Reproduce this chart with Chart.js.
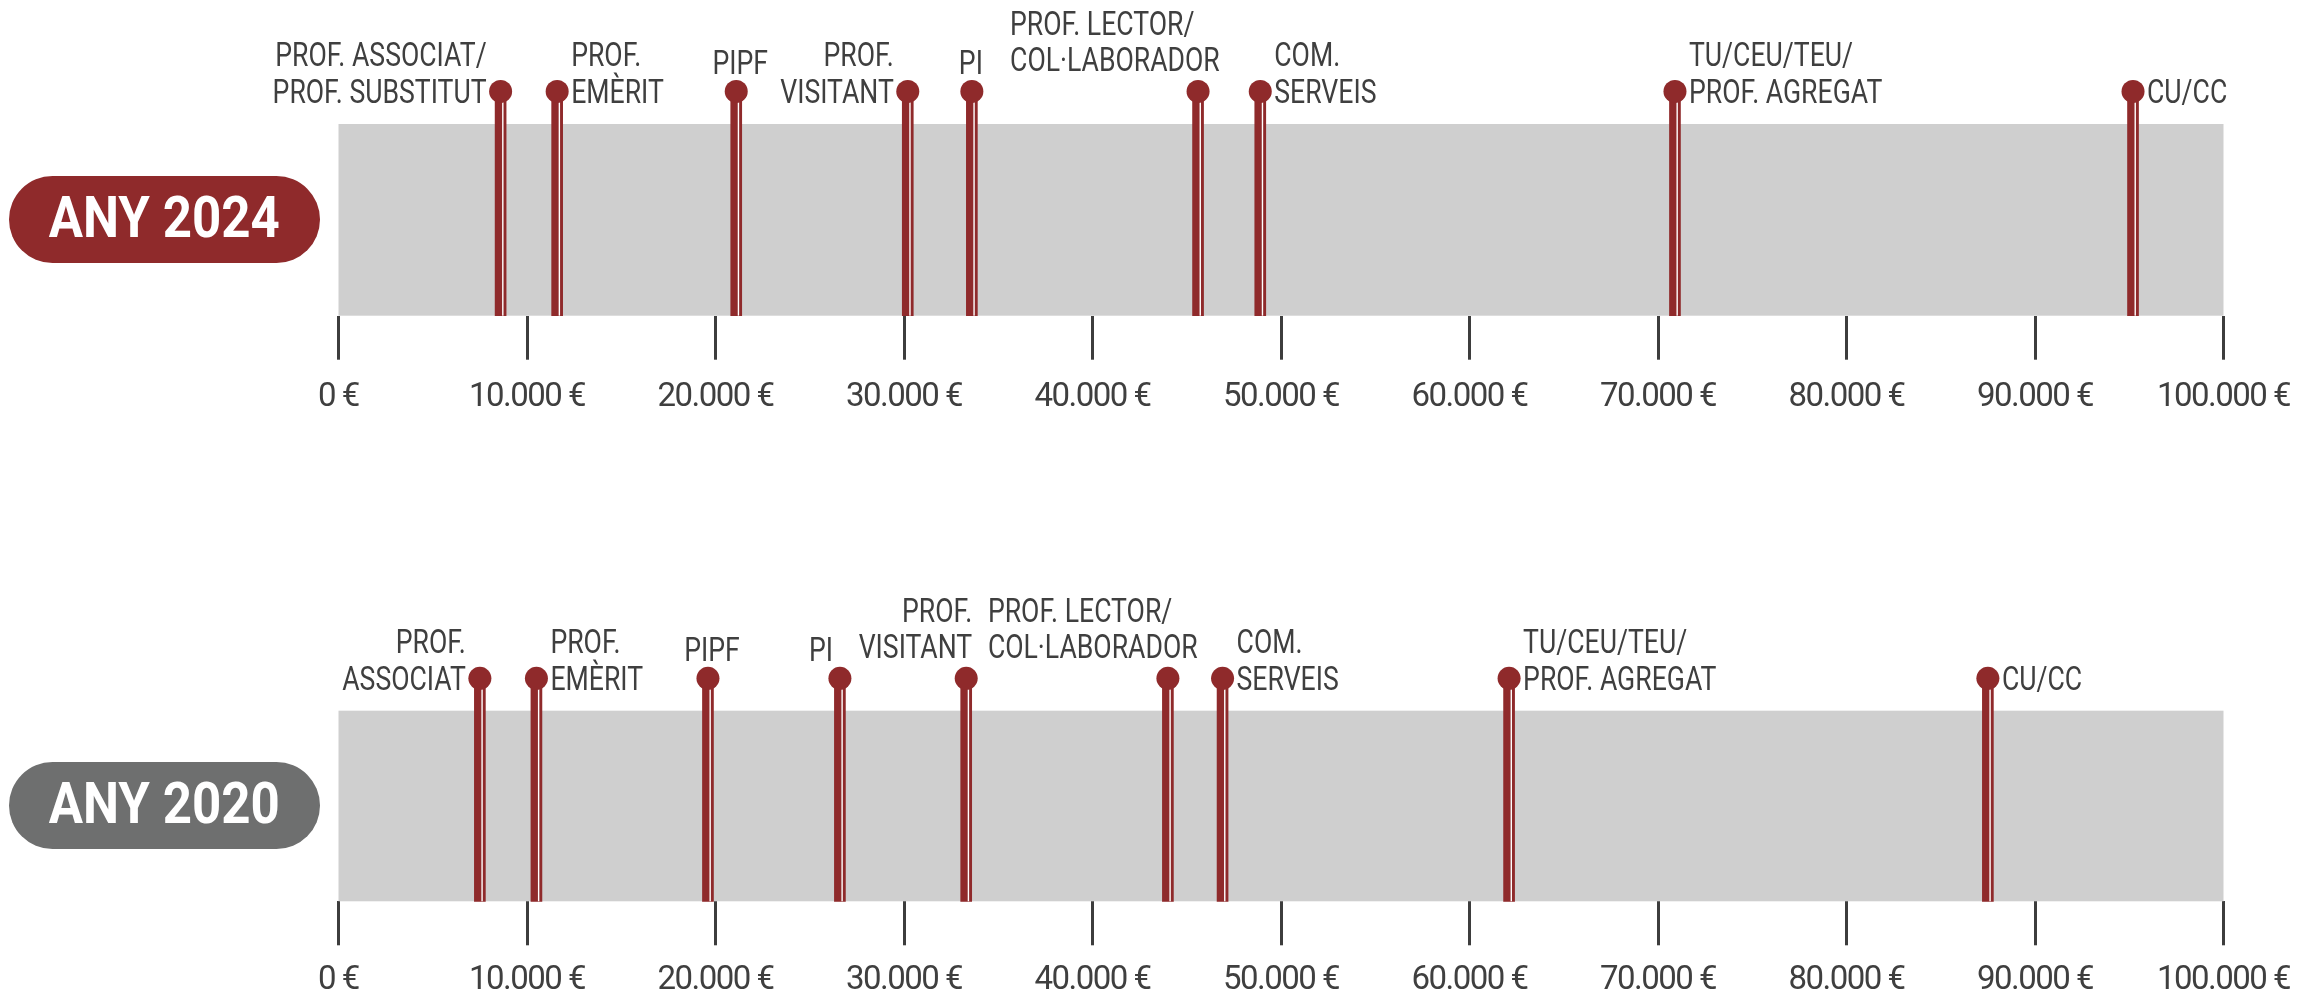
<!DOCTYPE html>
<html>
<head>
<meta charset="utf-8">
<script src="https://cdn.jsdelivr.net/npm/chart.js@4.4.1/dist/chart.umd.min.js"></script>
<style>
html,body{margin:0;padding:0;background:#fff;width:2315px;height:997px;overflow:hidden;}
.wrap{position:absolute;left:0;width:2315px;}
.pill{position:absolute;left:9px;width:311px;height:87px;border-radius:44px;color:#fff;
  display:flex;align-items:center;justify-content:center;box-sizing:border-box;padding-bottom:5px;}
.pill span{display:inline-block;white-space:nowrap;font-weight:bold;font-size:58px;}
</style>
</head>
<body>
<div class="wrap" style="top:0;height:480px"><canvas id="c2024"></canvas></div>
<div class="wrap" style="top:480px;height:517px"><canvas id="c2020"></canvas></div>
<div class="pill" id="p2024" style="top:176px;background:#8f2a2b"><span></span></div>
<div class="pill" id="p2020" style="top:762px;background:#6e6f6f"><span></span></div>
<script>
// --- data ---
const years = ['ANY 2024', 'ANY 2020'];
const cats2024 = [['PROF. ASSOCIAT/','PROF. SUBSTITUT'],['PROF.','EMÈRIT'],['PIPF'],['PROF.','VISITANT'],['PI'],
  ['PROF. LECTOR/','COL·LABORADOR'],['COM.','SERVEIS'],['TU/CEU/TEU/','PROF. AGREGAT'],['CU/CC']];
const vals2024 = [8600, 11600, 21100, 30200, 33600, 45600, 48900, 70900, 95200];
const cats2020 = [['PROF.','ASSOCIAT'],['PROF.','EMÈRIT'],['PIPF'],['PI'],['PROF.','VISITANT'],
  ['PROF. LECTOR/','COL·LABORADOR'],['COM.','SERVEIS'],['TU/CEU/TEU/','PROF. AGREGAT'],['CU/CC']];
const vals2020 = [7500, 10500, 19600, 26600, 33300, 44000, 46900, 62100, 87500];
const tickValues = [0,10000,20000,30000,40000,50000,60000,70000,80000,90000,100000];

// label placement (style only): align, offset from the pin head
const L = {align:'right', dx:-14, dy:11.5}, R = {align:'left', dx:14, dy:11.5};
const place2024 = [L, R, {align:'center',dx:4,dy:-17}, L, {align:'center',dx:-1,dy:-17},
  {align:'left',dx:-188,dy:-20}, R, R, R];
const place2020 = [L, R, {align:'center',dx:4,dy:-17}, {align:'right',dx:-7,dy:-17}, {align:'right',dx:6,dy:-20},
  {align:'left',dx:-180,dy:-20}, R, R, R];

const RED = '#8f2a2b', TXT = '#3f3f3f', BAND = '#cfcfcf';
const HEAD = 1.17, YMAX = 1.3;   // band is y 0..1, heads sit above it

function hasFont(name){
  const c = document.createElement('canvas').getContext('2d');
  const s = 'PROF. ASSOCIAT 10.000';
  c.font = '40px monospace'; const a = c.measureText(s).width;
  c.font = `40px "${name}", monospace`; return c.measureText(s).width !== a;
}
const FONT = hasFont('Liberation Sans Narrow') ? 'Liberation Sans Narrow' : 'Roboto';
const narrow = FONT !== 'Roboto';

// squeeze labels to the condensed look of the original
const mctx = document.createElement('canvas').getContext('2d');
mctx.font = `34px "${FONT}"`;
const SX = Math.min(1, 214 / mctx.measureText('PROF. SUBSTITUT').width);

function tickLabel(v){ return String(v).replace(/\B(?=(\d{3})+(?!\d))/g, '.') + ' €'; }

// pills
[['p2024', years[0]], ['p2020', years[1]]].forEach(([id, t])=>{
  const sp = document.querySelector('#'+id+' span');
  sp.textContent = t; sp.style.fontFamily = `"${FONT}"`;
  mctx.font = `bold 58px "${FONT}"`;
  const k = 231 / mctx.measureText(t).width;
  sp.style.transform = `scaleX(${k.toFixed(3)})`;
});

const bandPlugin = {
  id:'band',
  beforeDraw(chart){ if (!narrow) chart.ctx.letterSpacing = '-1.5px'; },
  beforeDatasetsDraw(chart){
    const a = chart.chartArea, ctx = chart.ctx, y = chart.scales.y;
    const top = y.getPixelForValue(1), bot = y.getPixelForValue(0);
    ctx.save(); ctx.fillStyle = BAND; ctx.fillRect(a.left, top, a.right - a.left, bot - top); ctx.restore();
  },
  afterDatasetDraw(chart, args){
    if (args.meta.type !== 'bar') return;
    const ctx = chart.ctx;
    ctx.save(); ctx.fillStyle = '#ffffff';
    args.meta.data.forEach(b=>{ ctx.fillRect(b.x + 1.5, b.y, 1.4, b.base - b.y); });
    ctx.restore();
  }
};

function labelPlugin(cats, places){
  return {
    id:'pinLabels',
    afterDraw(chart){
      const meta = chart.getDatasetMeta(0), ctx = chart.ctx;
      ctx.save();
      ctx.letterSpacing = '0px';
      ctx.font = `34px "${FONT}"`; ctx.fillStyle = TXT; ctx.textBaseline = 'alphabetic';
      meta.data.forEach((pt, i)=>{
        const lines = cats[i], p = places[i], n = lines.length;
        lines.forEach((ln, j)=>{
          const y = pt.y + p.dy - (n - 1 - j) * 36.5;
          ctx.save(); ctx.translate(pt.x + p.dx, y); ctx.scale(SX, 1);
          ctx.textAlign = p.align; ctx.fillText(ln, 0, 0); ctx.restore();
        });
      });
      ctx.restore();
    }
  };
}

function makeChart(id, cats, vals, places, padTop, axisH, tickPad){
  return new Chart(document.getElementById(id), {
    type:'bar',
    data:{ datasets:[
      { type:'scatter', data: vals.map(v=>({x:v, y:HEAD})), pointRadius:11.5, pointHoverRadius:11.5,
        backgroundColor:RED, borderWidth:0, clip:false },
      { type:'bar', data: vals.map(v=>({x:v, y:[0, HEAD]})), backgroundColor:RED, borderWidth:0,
        barThickness:11, clip:false }
    ]},
    options:{
      responsive:true, maintainAspectRatio:false, animation:false, events:[],
      layout:{ padding:{ left:338.5, right:91.5, top:padTop, bottom:0 } },
      plugins:{ legend:{display:false}, tooltip:{enabled:false} },
      scales:{
        x:{ type:'linear', min:0, max:100000, offset:false,
          afterBuildTicks: s=>{ s.ticks = tickValues.map(v=>({value:v})); },
          afterFit: s=>{ s.height = axisH; },
          ticks:{ callback: v=>tickLabel(v), autoSkip:false, maxRotation:0, padding:tickPad,
            color:TXT, font:{ family:FONT, size: narrow ? 34 : 33 } },
          grid:{ display:true, offset:false, drawOnChartArea:false, drawTicks:true, tickLength:44, tickWidth:3, tickColor:'#3d3d3d' },
          border:{ display:false } },
        y:{ display:false, min:0, max:YMAX }
      }
    },
    plugins:[bandPlugin, labelPlugin(cats, places)]
  });
}

// chart area spans from above the heads down to the band bottom
makeChart('c2024', cats2024, vals2024, place2024, 66.5, 164.3, 18);
makeChart('c2020', cats2020, vals2020, place2020, 173.5, 95.7, 16);
</script>
</body>
</html>
